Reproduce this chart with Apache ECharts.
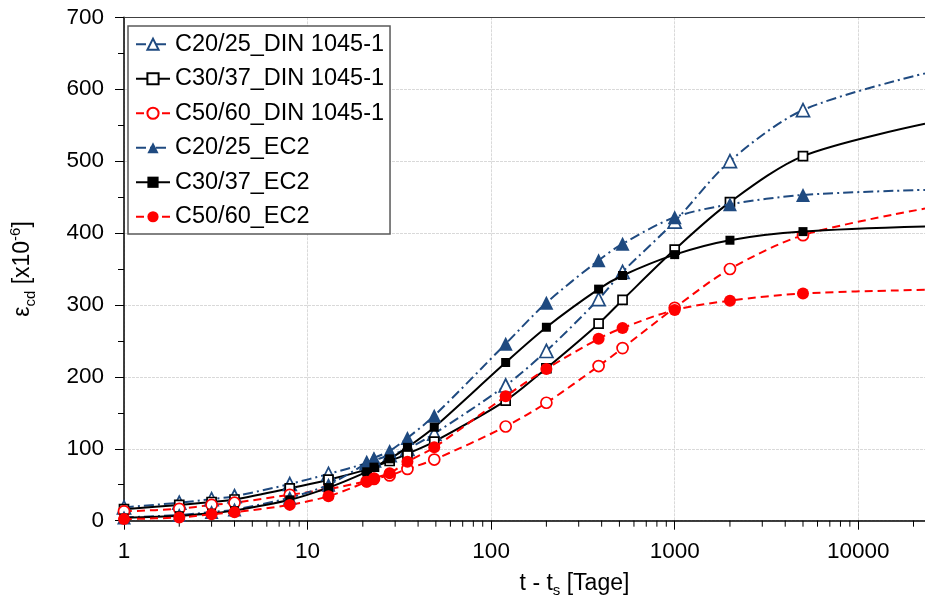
<!DOCTYPE html>
<html><head><meta charset="utf-8">
<script src="https://cdn.jsdelivr.net/npm/echarts@6/dist/echarts.min.js"></script>
<style>html,body{margin:0;padding:0;background:#fff}#c{width:925px;height:606px}</style>
</head><body><div id="c"></div>
<script>
// x values: t - ts [Tage]; last entry = right edge of the plot
const days = [1, 2, 3, 4, 8, 13, 21, 23, 28, 35, 49, 120, 200, 385, 520, 1000, 2000, 5000, 23100];
const xMin = 1;
const xMax = 23100;
const xMinorTicks = [2,3,4,5,6,7,8,9, 20,30,40,50,60,70,80,90, 200,300,400,500,600,700,800,900, 2000,3000,4000,5000,6000,7000,8000,9000, 20000];
const yMin = 0, yMax = 700, yStep = 100;

const seriesNames = ['C20/25_DIN 1045-1', 'C30/37_DIN 1045-1', 'C50/60_DIN 1045-1', 'C20/25_EC2', 'C30/37_EC2', 'C50/60_EC2'];
const c20din = [18.5, 25, 30, 34, 51, 65, 80, 84, 91, 100, 121, 188, 236, 308, 346, 416, 500, 571, 622];
const c30din = [16, 22, 26, 29.5, 45, 57, 71, 75, 83, 93, 110, 167, 212, 274, 307, 377, 443, 507, 552];
const c50din = [13, 16.5, 22, 25, 36, 44, 55, 58, 63, 72, 85, 131, 164, 215, 240, 296, 350, 397, 434];
const c20ec2 = [4.5, 8, 12, 15.5, 32, 50, 80, 87, 97, 115, 146, 246, 303, 362, 385, 422, 440, 453, 460];
const c30ec2 = [4, 7, 10.5, 14, 29, 46, 68, 74.5, 86, 102, 130, 220, 269, 322, 341, 370, 390, 402, 409];
const c50ec2 = [2.2, 4.5, 9, 11.7, 22, 34, 54, 59, 66, 82, 102, 173, 211, 253, 268, 293, 306, 316, 321];

const FONT = '"Liberation Sans", Arial, sans-serif';
const BLUE = '#1f4a80', RED = '#ff0000', BLACK = '#000000';

function pts(vals) {
  return vals.map((v, i) => i === vals.length - 1 ? { value: [days[i], v], symbol: 'none' } : [days[i], v]);
}
function mkSeries(name, vals, symbol, size, color, filled, dash) {
  return {
    name, type: 'line', data: pts(vals), smooth: 0.3, symbol, symbolSize: size,
    clip: true,
    itemStyle: { color: filled ? color : '#ffffff', borderColor: color, borderWidth: filled ? 0 : 1.7 },
    lineStyle: { color, width: 2, type: dash },
    emphasis: { disabled: true }, z: filled ? 4 : 3
  };
}

const chart = echarts.init(document.getElementById('c'), null, { renderer: 'canvas' });
chart.setOption({
  animation: false,
  backgroundColor: '#ffffff',
  textStyle: { fontFamily: FONT },
  grid: { left: 123.5, right: 0, top: 17.3, bottom: 85.3, containLabel: false },
  legend: {
    orient: 'vertical', left: 128, top: 26, data: seriesNames,
    itemWidth: 34, itemHeight: 14, itemGap: 10, padding: [6, 6, 5, 7],
    borderColor: '#595959', borderWidth: 1.5, backgroundColor: '#ffffff',
    textStyle: { fontSize: 23.5, color: '#000', fontFamily: FONT, lineHeight: 24.5 }
  },
  xAxis: [{
    type: 'log', logBase: 10, min: xMin, max: xMax,
    axisLine: { show: true, lineStyle: { color: '#000', width: 1.5 } },
    axisTick: { show: true, length: 9, lineStyle: { color: '#000', width: 1 } },
    splitLine: { show: true, lineStyle: { color: '#d9d9d9', width: 1, type: [3, 1] } },
    axisLabel: { fontSize: 22.5, color: '#000', margin: 20, showMaxLabel: false, formatter: v => String(Math.round(v)) },
    name: 't - t{s|s} [Tage]', nameLocation: 'middle', nameGap: 44,
    nameTextStyle: {
      fontSize: 23, color: '#000', lineHeight: 30, padding: [0, 0, 0, 100],
      rich: { s: { fontSize: 15, lineHeight: 14, verticalAlign: 'bottom', color: '#000' } }
    }
  }, {
    type: 'log', logBase: 10, min: xMin, max: xMax, position: 'top',
    axisLine: { show: true, lineStyle: { color: '#404040', width: 1.2 } },
    axisTick: { show: false }, axisLabel: { show: false }, splitLine: { show: false }
  }],
  yAxis: {
    type: 'value', min: yMin, max: yMax, interval: yStep,
    axisLine: { show: true, lineStyle: { color: '#000', width: 1.5 } },
    axisTick: { show: true, length: 9, lineStyle: { color: '#000', width: 1 } },
    minorTick: { show: true, splitNumber: 2, length: 6, lineStyle: { color: '#000', width: 1 } },
    splitLine: { show: true, lineStyle: { color: '#d9d9d9', width: 1, type: [3, 1] } },
    axisLabel: { fontSize: 22.5, color: '#000', margin: 20 },
    name: '{e|ε}{sub|cd} [x10{sup|-6}]', nameLocation: 'middle', nameGap: 86, nameRotate: 90,
    nameTextStyle: {
      fontSize: 23, color: '#000', lineHeight: 30,
      rich: {
        e: { fontSize: 23, lineHeight: 30 },
        sub: { fontSize: 15, lineHeight: 14, verticalAlign: 'bottom' },
        sup: { fontSize: 15, lineHeight: 14, verticalAlign: 'top' }
      }
    }
  },
  series: [
    {
      type: 'custom', name: 'minorTicks', silent: true, clip: false, z: 1,
      data: xMinorTicks.map(v => [v, yMin]),
      encode: { x: 0, y: 1 },
      renderItem: (params, api) => {
        const p = api.coord([api.value(0), api.value(1)]);
        return { type: 'line', shape: { x1: p[0], y1: p[1], x2: p[0], y2: p[1] + 6 }, style: { stroke: '#000', lineWidth: 1 } };
      }
    },
    mkSeries(seriesNames[0], c20din, 'triangle', 13, BLUE, false, [10, 4, 2, 4]),
    mkSeries(seriesNames[1], c30din, 'rect', 9, BLACK, false, 'solid'),
    mkSeries(seriesNames[2], c50din, 'circle', 11, RED, false, [8, 5]),
    mkSeries(seriesNames[3], c20ec2, 'triangle', 14, BLUE, true, [10, 4, 2, 4]),
    mkSeries(seriesNames[4], c30ec2, 'rect', 9, BLACK, true, 'solid'),
    mkSeries(seriesNames[5], c50ec2, 'circle', 12, RED, true, [8, 5])
  ]
});
</script></body></html>
